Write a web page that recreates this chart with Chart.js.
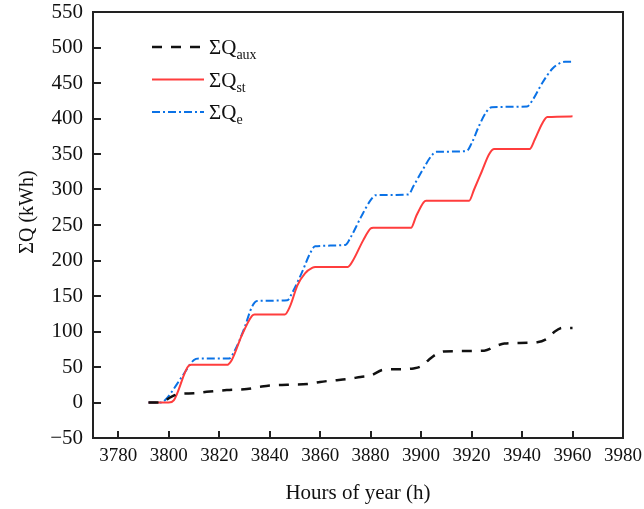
<!DOCTYPE html>
<html>
<head>
<meta charset="utf-8">
<script src="https://cdn.jsdelivr.net/npm/chart.js@4.4.1/dist/chart.umd.min.js"></script>
<style>
  html, body { margin: 0; padding: 0; background: #fff; }
  #wrap { width: 644px; height: 509px; }
</style>
</head>
<body>
<div id="wrap"><canvas id="qChart" width="644" height="509"></canvas></div>
<script>
'use strict';

// Cumulative energy
const hoursAux = [3792, 3797, 3801, 3804, 3810, 3815, 3823, 3831, 3836, 3840, 3847, 3855, 3860, 3865, 3871, 3876, 3880, 3885, 3893, 3897, 3900, 3903, 3906, 3909, 3925, 3930, 3933, 3946, 3950, 3953, 3956, 3960];
const qAux = [0, 0, 8, 12, 13, 15, 17.5, 19, 22, 24, 25, 26, 29, 31, 33, 36, 38, 46, 47, 48, 51, 60, 68, 72, 73, 80, 83, 85, 90, 100, 105, 105];

const hoursSt = [3792, 3800, 3802, 3808, 3809, 3823, 3825, 3829, 3833, 3834, 3846, 3848, 3851, 3854, 3857, 3858, 3871, 3873, 3877, 3880, 3881, 3896, 3898, 3901, 3902, 3919, 3921, 3924, 3927, 3929, 3943, 3945, 3948, 3950, 3960];
const qSt = [0, 0, 3, 52, 53, 53, 60, 95, 122, 124, 124, 135, 165, 182, 190, 191, 191, 200, 228, 245, 246, 246, 262, 282, 284, 284, 300, 325, 350, 357, 357, 370, 393, 402, 403];

const hoursE = [3792, 3797, 3799, 3805, 3810, 3812, 3824, 3826, 3830, 3833, 3835, 3847, 3849, 3853, 3856, 3858, 3870, 3872, 3876, 3880, 3882, 3895, 3897, 3901, 3904, 3906, 3918, 3920, 3923, 3926, 3928, 3942, 3944, 3948, 3952, 3955, 3957, 3960];
const qE = [0, 0, 5, 35, 60, 62, 62, 72, 105, 135, 143, 144, 155, 185, 210, 220, 222, 232, 260, 285, 292, 293, 305, 330, 347, 353, 354, 365, 390, 410, 416, 417, 425, 450, 470, 478, 480, 480];

const seriesSubs = ['aux', 'st', 'e'];
const xTitle = 'Hours of year (h)';
const yTitle = 'ΣQ (kWh)';

const serif = '"Liberation Serif", "Times New Roman", serif';

function toPoints(xs, ys) {
    return xs.map(function(x, i) { return { x: x, y: ys[i] }; });
}

function plainNumber(value) {
    return value < 0 ? '\u2212' + Math.abs(value) : String(value);
}

// frame, inward ticks, y title and legend with subscripts
const decorPlugin = {
    id: 'decor',
    afterDraw: function(chart) {
        const ctx = chart.ctx;
        const area = chart.chartArea;
        const xs = chart.scales.x;
        const ys = chart.scales.y;
        ctx.save();
        ctx.strokeStyle = '#222';
        ctx.lineWidth = 2;
        ctx.strokeRect(area.left, area.top, area.right - area.left, area.bottom - area.top);

        ctx.beginPath();
        xs.ticks.forEach(function(t) {
            const px = Math.round(xs.getPixelForValue(t.value));
            ctx.moveTo(px, area.bottom);
            ctx.lineTo(px, area.bottom - 7);
        });
        ys.ticks.forEach(function(t) {
            const py = Math.round(ys.getPixelForValue(t.value));
            ctx.moveTo(area.left, py);
            ctx.lineTo(area.left + 8, py);
        });
        ctx.stroke();

        // y axis title
        ctx.save();
        ctx.translate(28, 212);
        ctx.rotate(-Math.PI / 2);
        ctx.fillStyle = '#111';
        ctx.font = '20px ' + serif;
        ctx.textAlign = 'center';
        ctx.textBaseline = 'middle';
        ctx.fillText(yTitle, 0, 0);
        ctx.restore();

        // legend
        chart.data.datasets.forEach(function(ds, i) {
            const y = 47 + i * 32.5;
            ctx.save();
            ctx.strokeStyle = ds.borderColor;
            ctx.lineWidth = ds.borderWidth;
            ctx.setLineDash(ds.borderDash || []);
            ctx.beginPath();
            ctx.moveTo(152, y);
            ctx.lineTo(204, y);
            ctx.stroke();
            ctx.restore();

            ctx.fillStyle = '#111';
            ctx.textAlign = 'left';
            ctx.textBaseline = 'alphabetic';
            ctx.font = '21px ' + serif;
            ctx.fillText('ΣQ', 209, y + 7);
            const w = ctx.measureText('ΣQ').width;
            ctx.font = '14px ' + serif;
            ctx.fillText(seriesSubs[i], 209 + w, y + 12);
        });
        ctx.restore();
    }
};

document.addEventListener('DOMContentLoaded', function() {
    const ctx = document.getElementById('qChart').getContext('2d');

    new Chart(ctx, {
        type: 'line',
        data: {
            datasets: [
                {
                    label: 'ΣQaux',
                    data: toPoints(hoursAux, qAux),
                    borderColor: '#111111',
                    borderWidth: 2.5,
                    borderDash: [10, 9],
                    pointRadius: 0,
                    cubicInterpolationMode: 'monotone',
                    fill: false
                },
                {
                    label: 'ΣQst',
                    data: toPoints(hoursSt, qSt),
                    borderColor: '#ff3d3d',
                    borderWidth: 2,
                    pointRadius: 0,
                    cubicInterpolationMode: 'monotone',
                    fill: false
                },
                {
                    label: 'ΣQe',
                    data: toPoints(hoursE, qE),
                    borderColor: '#0b72e6',
                    borderWidth: 2,
                    borderDash: [8, 3, 2, 3],
                    pointRadius: 0,
                    cubicInterpolationMode: 'monotone',
                    fill: false
                }
            ]
        },
        options: {
            responsive: false,
            animation: false,
            layout: { padding: { top: 12, right: 21, left: 0, bottom: 0 } },
            plugins: {
                legend: { display: false },
                tooltip: { enabled: false }
            },
            scales: {
                x: {
                    type: 'linear',
                    min: 3770,
                    max: 3980,
                    border: { display: false },
                    grid: { display: false, drawTicks: false },
                    ticks: {
                        stepSize: 20,
                        includeBounds: false,
                        padding: 7,
                        color: '#111',
                        maxRotation: 0,
                        autoSkip: false,
                        font: { family: serif, size: 19 },
                        callback: plainNumber
                    },
                    title: {
                        display: true,
                        text: xTitle,
                        color: '#111',
                        padding: { top: 0, bottom: 3 },
                        font: { family: serif, size: 21 }
                    },
                    afterFit: function(scale) {
                        scale.height = 71;
                        scale.paddingLeft = 0;
                        scale.paddingRight = 0;
                    }
                },
                y: {
                    min: -50,
                    max: 550,
                    border: { display: false },
                    grid: { display: false, drawTicks: false },
                    ticks: {
                        stepSize: 50,
                        padding: 10,
                        color: '#111',
                        font: { family: serif, size: 21 },
                        callback: plainNumber
                    },
                    afterFit: function(scale) {
                        scale.width = 93;
                        scale.paddingTop = 0;
                        scale.paddingBottom = 0;
                    }
                }
            }
        },
        plugins: [decorPlugin]
    });
});
</script>
</body>
</html>
